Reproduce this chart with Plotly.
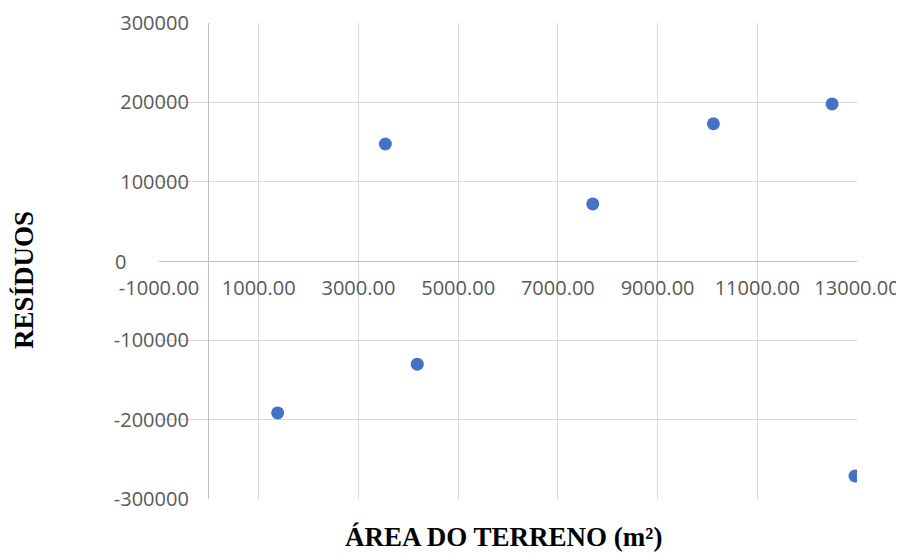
import plotly.graph_objects as go

# Data
area = [1380, 3540, 4180, 7700, 10120, 12500, 12960]
residuos = [-191500, 147500, -130000, 72000, 173000, 198000, -271000]

x_ticks = [-1000, 1000, 3000, 5000, 7000, 9000, 11000, 13000]
x_ticklabels = ["-1000.00", "1000.00", "3000.00", "5000.00", "7000.00", "9000.00", "11000.00", "13000.00"]
y_ticks = [-300000, -200000, -100000, 0, 100000, 200000, 300000]
y_ticklabels = ["-300000", "-200000", "-100000", "", "100000", "200000", "300000"]

x_title = "ÁREA DO TERRENO (m²)"
y_title = "RESÍDUOS"

grid = "#d9d9d9"
axisc = "#bfbfbf"
tickfont = dict(family="Open Sans, Noto Sans, sans-serif", size=20, color="#595959")
titlefont = dict(family="Liberation Serif, Times New Roman, serif", size=27, color="#000000",
                 weight="bold")

# page body has an 8px offset; plot area spans px 159..857 x 23..499 in the window
OFF = 8
L, T, PW, PH = 159 - OFF, 23 - OFF, 698, 476
W, H = 904 - OFF, 554 - OFF

fig = go.Figure()
fig.add_trace(go.Scatter(
    x=area, y=residuos, mode="markers",
    marker=dict(color="#4472C4", size=13, line=dict(width=0)),
    showlegend=False, hoverinfo="x+y",
))

fig.update_layout(
    width=W, height=H,
    margin=dict(l=L, r=W - L - PW, t=T, b=H - T - PH, autoexpand=False),
    paper_bgcolor="white", plot_bgcolor="white",
    xaxis=dict(
        range=[-1000, 13000], tickvals=x_ticks, ticktext=x_ticklabels,
        showgrid=True, gridcolor=grid, gridwidth=1,
        zeroline=True, zerolinecolor=axisc, zerolinewidth=1,
        showline=False, ticks="", tickfont=tickfont,
        anchor="free", position=0.5, ticklabelstandoff=13, automargin=False,
    ),
    yaxis=dict(
        range=[-300000, 300000], tickvals=y_ticks, ticktext=y_ticklabels,
        showgrid=True, gridcolor=grid, gridwidth=1,
        zeroline=True, zerolinecolor=axisc, zerolinewidth=1,
        showline=False, ticks="", tickfont=tickfont,
        anchor="free", position=1000 / 14000, ticklabelstandoff=20, automargin=False,
    ),
    annotations=[
        dict(text="0", x=-1000, y=0, xref="x", yref="y", xanchor="right", yanchor="middle",
             xshift=-31, showarrow=False, font=tickfont),
        dict(text=x_title, x=(503 - 159) / PW, y=(499 - 554) / PH, xref="paper", yref="paper",
             xanchor="center", yanchor="bottom", showarrow=False, font=titlefont),
        dict(text=y_title, x=(24 - 159) / PW, y=(499 - 280) / PH, xref="paper", yref="paper",
             xanchor="center", yanchor="middle", textangle=-90, showarrow=False, font=titlefont),
    ],
)

fig.write_html("out.html")
